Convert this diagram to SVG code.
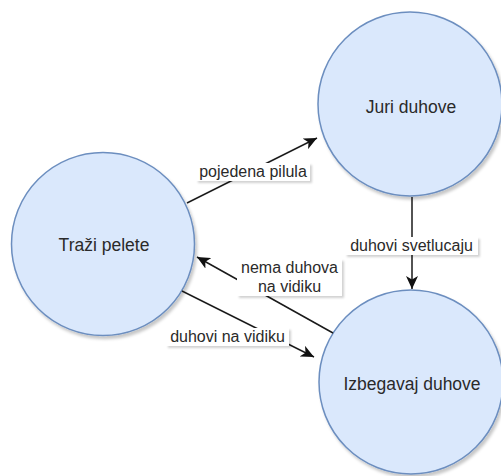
<svg xmlns="http://www.w3.org/2000/svg" width="501" height="476" viewBox="0 0 501 476">
  <defs>
    <filter id="shadow" x="-20%" y="-20%" width="150%" height="150%">
      <feDropShadow dx="2" dy="3" stdDeviation="1.6" flood-color="#000" flood-opacity="0.22"/>
    </filter>
    <filter id="lblShadow" x="-10%" y="-30%" width="130%" height="180%">
      <feDropShadow dx="2" dy="2" stdDeviation="1.2" flood-color="#000" flood-opacity="0.18"/>
    </filter>
    <marker id="arrow" markerUnits="userSpaceOnUse" markerWidth="14" markerHeight="12" refX="13" refY="6" orient="auto">
      <path d="M0,0 L13,6 L0,12 L3.5,6 Z" fill="#111"/>
    </marker>
  </defs>
  <style>
    .state { fill: #dae8fc; stroke: #6c8ebf; stroke-width: 1.5; filter: url(#shadow); }
    .name { font-family: "Liberation Sans", Arial, sans-serif; font-size: 17.5px; fill: #2a2a2a; text-anchor: middle; }
    .edge { stroke: #1a1a1a; stroke-width: 1.5; fill: none; marker-end: url(#arrow); }
    .lblbox { fill: #ffffff; filter: url(#lblShadow); }
    .lbl { font-family: "Liberation Sans", Arial, sans-serif; font-size: 16px; fill: #2a2a2a; text-anchor: middle; }
  </style>

  <rect width="501" height="476" fill="#ffffff"/>

  <!-- states -->
  <g id="trazi-pelete">
    <circle class="state" cx="103" cy="244" r="91.5"/>
    <text class="name" x="104" y="251">Traži pelete</text>
  </g>
  <g id="juri-duhove">
    <circle class="state" cx="410" cy="104" r="92"/>
    <text class="name" x="411" y="113">Juri duhove</text>
  </g>
  <g id="izbegavaj-duhove">
    <circle class="state" cx="411" cy="382" r="92"/>
    <text class="name" x="412" y="390">Izbegavaj duhove</text>
  </g>

  <!-- transitions -->
  <g id="connectors">
    <line class="edge" x1="187" y1="203" x2="317" y2="138"/>
    <line class="edge" x1="333" y1="333" x2="197" y2="257"/>
    <line class="edge" x1="182" y1="291" x2="314" y2="357"/>
    <line class="edge" x1="412" y1="197" x2="412" y2="289"/>

    <rect class="lblbox" x="196" y="163" width="114" height="18"/>
    <text class="lbl" x="253" y="177">pojedena pilula</text>

    <rect class="lblbox" x="237" y="259" width="105" height="37"/>
    <text class="lbl" x="289.5" y="273">nema duhova</text>
    <text class="lbl" x="289.5" y="292">na vidiku</text>

    <rect class="lblbox" x="166" y="328" width="123" height="18"/>
    <text class="lbl" x="227.5" y="342">duhovi na vidiku</text>

    <rect class="lblbox" x="345" y="237" width="133" height="18"/>
    <text class="lbl" x="411.5" y="251">duhovi svetlucaju</text>
  </g>
</svg>
